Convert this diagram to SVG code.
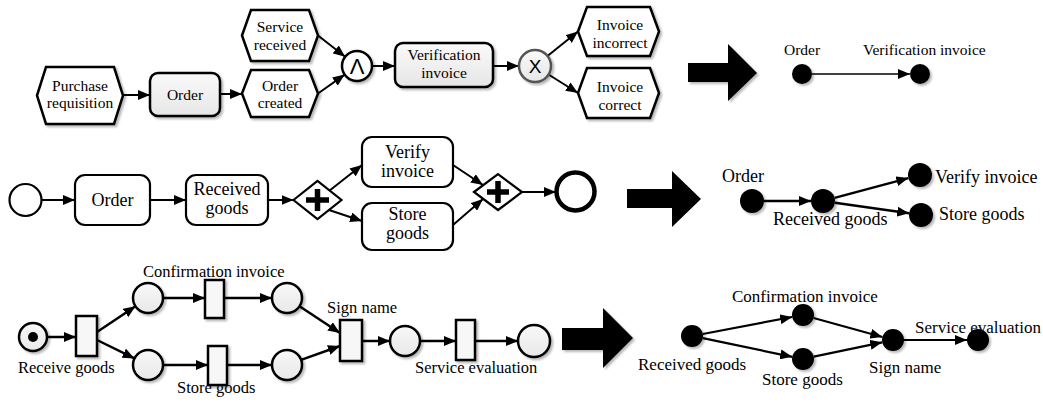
<svg xmlns="http://www.w3.org/2000/svg" width="1043" height="404" viewBox="0 0 1043 404">
<style>
.lbl{font-family:'Liberation Serif','DejaVu Serif',serif;fill:#000}
.t15{font-size:15.5px}
.t16{font-size:16.5px}
.t17{font-size:17px}
.t18{font-size:18px}
.mid{text-anchor:middle}
.ev{fill:#fff;stroke:#000;stroke-width:2.5}
.fn{fill:url(#g1);stroke:#000;stroke-width:2.5}
.act{fill:#fff;stroke:#000;stroke-width:2.2}
.pl{fill:url(#g2);stroke:#000;stroke-width:2.5}
.tr{fill:#f7f7f7;stroke:#000;stroke-width:2.5}
.dot{fill:#000}
.c{fill:none;stroke:#000;stroke-width:2;marker-end:url(#ah)}
.cs{fill:none;stroke:#000;stroke-width:1.6;marker-end:url(#ah)}
.big{fill:#000}
</style>
<defs>
<linearGradient id="g1" x1="0" y1="0" x2="0" y2="1"><stop offset="0" stop-color="#fafafa"/><stop offset="1" stop-color="#e6e6e6"/></linearGradient>
<linearGradient id="g2" x1="0" y1="0" x2="0" y2="1"><stop offset="0" stop-color="#f8f8f8"/><stop offset="1" stop-color="#e8e8e8"/></linearGradient>
<filter id="sh" x="-20%" y="-20%" width="150%" height="150%"><feDropShadow dx="2" dy="2" stdDeviation="1.3" flood-color="#000" flood-opacity="0.28"/></filter>
<marker id="ah" viewBox="0 0 12 10" refX="12" refY="5" markerWidth="12" markerHeight="10" markerUnits="userSpaceOnUse" orient="auto"><path d="M0,0 L12,5 L0,10 Z" fill="#000"/></marker>
</defs>

<g id="connectors">
<path class="c" d="M123,95 L150,95"/>
<path class="c" d="M220,94 L242,94"/>
<path class="c" d="M318,35.5 L345.2,56.8"/>
<path class="c" d="M318,93.5 L344.7,74.6"/>
<path class="c" d="M372,66 L395,66"/>
<path class="c" d="M493,66 L519,66"/>
<path class="c" d="M547.5,56 L578,31.5"/>
<path class="c" d="M548.5,74.5 L578,93"/>
<path class="cs" d="M812,74 L910,74"/>
<path class="c" d="M41.5,200 L75,200"/>
<path class="c" d="M150,200 L186,200"/>
<path class="c" d="M268,200 L293.5,200"/>
<path class="c" d="M329,191 L362,165"/>
<path class="c" d="M329,210 L362,221"/>
<path class="c" d="M453,165 L483,185"/>
<path class="c" d="M453,225 L483,199"/>
<path class="c" d="M522,192 L556,192"/>
<path class="c" style="stroke-width:2.5" d="M764,201 L811,201"/>
<path class="c" style="stroke-width:2.5" d="M834.6,197.9 L908.4,178.1"/>
<path class="c" style="stroke-width:2.5" d="M834.9,202.7 L909.1,213.3"/>
<path class="c" style="stroke-width:2.5" d="M47,337 L76,337"/>
<path class="c" style="stroke-width:2.5" d="M97,332 L135.5,306.3"/>
<path class="c" style="stroke-width:2.5" d="M97,340 L134.5,358.4"/>
<path class="c" style="stroke-width:2.5" d="M163,298 L205,298"/>
<path class="c" style="stroke-width:2.5" d="M163,365 L208,365"/>
<path class="c" style="stroke-width:2.5" d="M224,298 L272,298"/>
<path class="c" style="stroke-width:2.5" d="M227,365 L272,365"/>
<path class="c" style="stroke-width:2.5" d="M299.5,306.3 L340,333"/>
<path class="c" style="stroke-width:2.5" d="M301.1,359.9 L340,346"/>
<path class="c" style="stroke-width:2.5" d="M362,341 L390,341"/>
<path class="c" style="stroke-width:2.5" d="M420,341 L456,341"/>
<path class="c" style="stroke-width:2.5" d="M475,341 L518,341"/>
<path class="c" style="stroke-width:2.2" d="M702.8,334 L792.2,317"/>
<path class="c" style="stroke-width:2.2" d="M702.8,338.2 L792.2,356.8"/>
<path class="c" style="stroke-width:2.2" d="M813.6,318 L882.4,337"/>
<path class="c" style="stroke-width:2.2" d="M813.8,356.7 L882.2,342.3"/>
<path class="c" style="stroke-width:2.2" d="M904,340 L967,340"/>
</g>

<g font-family="Liberation Serif, DejaVu Serif, serif">
<!-- Top EPC -->
<g id="purchase-requisition"><path class="ev" filter="url(#sh)" d="M37,95.5 L46,67 L114,67 L123,95.5 L114,124 L46,124 Z"/><text class="lbl t15 mid" x="80" y="91">Purchase</text><text class="lbl t15 mid" x="80" y="108">requisition</text></g>
<g id="order-fn"><rect class="fn" filter="url(#sh)" x="150" y="73" width="70" height="43" rx="8"/><text class="lbl t15 mid" x="185" y="100">Order</text></g>
<g id="service-received"><path class="ev" filter="url(#sh)" d="M242,35.5 L251,10 L309,10 L318,35.5 L309,61 L251,61 Z"/><text class="lbl t15 mid" x="280" y="32">Service</text><text class="lbl t15 mid" x="280" y="50">received</text></g>
<g id="order-created"><path class="ev" filter="url(#sh)" d="M242,93.5 L251,70 L309,70 L318,93.5 L309,117 L251,117 Z"/><text class="lbl t15 mid" x="280" y="91">Order</text><text class="lbl t15 mid" x="280" y="108">created</text></g>
<g id="and"><circle class="ev" filter="url(#sh)" cx="357" cy="66" r="15"/><text x="357" y="74" text-anchor="middle" font-family="Liberation Sans, Arial, sans-serif" font-size="22">Λ</text></g>
<g id="verification-invoice"><rect class="fn" filter="url(#sh)" x="395" y="43" width="98" height="44" rx="8"/><text class="lbl t15 mid" x="444" y="60">Verification</text><text class="lbl t15 mid" x="444" y="78">invoice</text></g>
<g id="xor"><circle filter="url(#sh)" cx="535" cy="66" r="16" fill="url(#g1)" stroke="#555" stroke-width="2.5"/><text x="535" y="73" text-anchor="middle" font-family="Liberation Sans, Arial, sans-serif" font-size="19">X</text></g>
<g id="invoice-incorrect"><path class="ev" filter="url(#sh)" d="M578,31.5 L587,7 L650,7 L659,31.5 L650,56 L587,56 Z"/><text class="lbl t15 mid" x="620" y="30">Invoice</text><text class="lbl t15 mid" x="620" y="48">incorrect</text></g>
<g id="invoice-correct"><path class="ev" filter="url(#sh)" d="M578,93 L587,68 L650,68 L659,93 L650,118 L587,118 Z"/><text class="lbl t15 mid" x="620" y="92">Invoice</text><text class="lbl t15 mid" x="620" y="110">correct</text></g>
<g id="arrow-1"><path class="big" filter="url(#sh)" d="M688,63 L728,63 L728,44 L757,73 L728,101 L728,82 L688,82 Z"/></g>
<g id="tr-order"><circle class="dot" filter="url(#sh)" cx="802" cy="74" r="10"/><text class="lbl t15" x="784" y="55">Order</text></g>
<g id="tr-verification"><circle class="dot" filter="url(#sh)" cx="920" cy="74" r="10"/><text class="lbl t15" x="863" y="55">Verification invoice</text></g>

<!-- Middle BPMN -->
<g id="start"><circle cx="25.5" cy="200" r="16" fill="#fff" stroke="#000" stroke-width="2.2"/></g>
<g id="order-task"><rect class="act" x="75" y="175" width="75" height="50" rx="10"/><text class="lbl t18 mid" x="112.5" y="206">Order</text></g>
<g id="received-goods-task"><rect class="act" x="186" y="175" width="82" height="50" rx="10"/><text class="lbl t18 mid" x="227" y="195">Received</text><text class="lbl t18 mid" x="227" y="214">goods</text></g>
<g id="split"><path d="M293.5,200 L317.5,181 L341.5,200 L317.5,219 Z" fill="#fff" stroke="#000" stroke-width="2.2"/><path d="M306,200 L329,200 M317.5,189 L317.5,211" stroke="#000" stroke-width="5.5"/></g>
<g id="verify-invoice-task"><rect class="act" x="362" y="137" width="91" height="50" rx="10"/><text class="lbl t18 mid" x="407.5" y="158">Verify</text><text class="lbl t18 mid" x="407.5" y="177">invoice</text></g>
<g id="store-goods-task"><rect class="act" x="362" y="203" width="91" height="47" rx="10"/><text class="lbl t18 mid" x="407.5" y="220">Store</text><text class="lbl t18 mid" x="407.5" y="239">goods</text></g>
<g id="join"><path d="M474,192 L498,174 L522,192 L498,210 Z" fill="#fff" stroke="#000" stroke-width="2.2"/><path d="M487,192 L509,192 M498,181 L498,203" stroke="#000" stroke-width="5.5"/></g>
<g id="end"><circle cx="575.5" cy="191.5" r="19" fill="#fff" stroke="#000" stroke-width="4.5"/></g>
<g id="arrow-2"><path class="big" d="M627,189 L672,189 L672,171 L701,199 L672,227 L672,208 L627,208 Z"/></g>
<g id="mr-order"><circle class="dot" filter="url(#sh)" cx="752" cy="201" r="12"/><text class="lbl t18" x="722" y="182">Order</text></g>
<g id="mr-received"><circle class="dot" filter="url(#sh)" cx="823" cy="201" r="12"/><text class="lbl t18" x="773" y="225">Received goods</text></g>
<g id="mr-verify"><circle class="dot" filter="url(#sh)" cx="920" cy="175" r="12"/><text class="lbl t18" x="935" y="183">Verify invoice</text></g>
<g id="mr-store"><circle class="dot" filter="url(#sh)" cx="921" cy="215" r="12"/><text class="lbl t18" x="939" y="220">Store goods</text></g>

<!-- Bottom Petri net -->
<g id="p0"><circle class="pl" filter="url(#sh)" cx="33" cy="337" r="14"/><circle class="dot" cx="33" cy="337" r="5"/></g>
<g id="t-receive"><rect class="tr" filter="url(#sh)" x="76" y="316" width="21" height="40"/><text class="lbl t16" x="18" y="373">Receive goods</text></g>
<g id="p1"><circle class="pl" filter="url(#sh)" cx="148" cy="298" r="15"/></g>
<g id="p2"><circle class="pl" filter="url(#sh)" cx="148" cy="365" r="15"/></g>
<g id="t-confirm"><rect class="tr" filter="url(#sh)" x="205" y="280" width="19" height="38"/><text class="lbl t16" x="143" y="277">Confirmation invoice</text></g>
<g id="t-store"><rect class="tr" filter="url(#sh)" x="208" y="346" width="19" height="39"/><text class="lbl t16" x="177" y="393">Store goods</text></g>
<g id="p3"><circle class="pl" filter="url(#sh)" cx="287" cy="298" r="15"/></g>
<g id="p4"><circle class="pl" filter="url(#sh)" cx="287" cy="365" r="15"/></g>
<g id="t-sign"><rect class="tr" filter="url(#sh)" x="340" y="320" width="22" height="41"/><text class="lbl t16" x="327" y="313">Sign name</text></g>
<g id="p5"><circle class="pl" filter="url(#sh)" cx="405" cy="341" r="15"/></g>
<g id="t-service"><rect class="tr" filter="url(#sh)" x="456" y="320" width="19" height="40"/><text class="lbl t16" x="415" y="373">Service evaluation</text></g>
<g id="p6"><circle class="pl" filter="url(#sh)" cx="534" cy="341" r="16"/></g>
<g id="arrow-3"><path class="big" filter="url(#sh)" d="M562,328 L603,328 L603,308 L633,338 L603,368 L603,350 L562,350 Z"/></g>
<g id="br-received"><circle class="dot" filter="url(#sh)" cx="692" cy="336" r="11"/><text class="lbl t17" x="638" y="370">Received goods</text></g>
<g id="br-confirm"><circle class="dot" filter="url(#sh)" cx="803" cy="315" r="11"/><text class="lbl t17" x="732" y="302">Confirmation invoice</text></g>
<g id="br-store"><circle class="dot" filter="url(#sh)" cx="803" cy="359" r="11"/><text class="lbl t17" x="762" y="385">Store goods</text></g>
<g id="br-sign"><circle class="dot" filter="url(#sh)" cx="893" cy="340" r="11"/><text class="lbl t17" x="869" y="373">Sign name</text></g>
<g id="br-service"><circle class="dot" filter="url(#sh)" cx="978" cy="340" r="11"/><text class="lbl t17" x="915" y="333">Service evaluation</text></g>
</g>
</svg>
